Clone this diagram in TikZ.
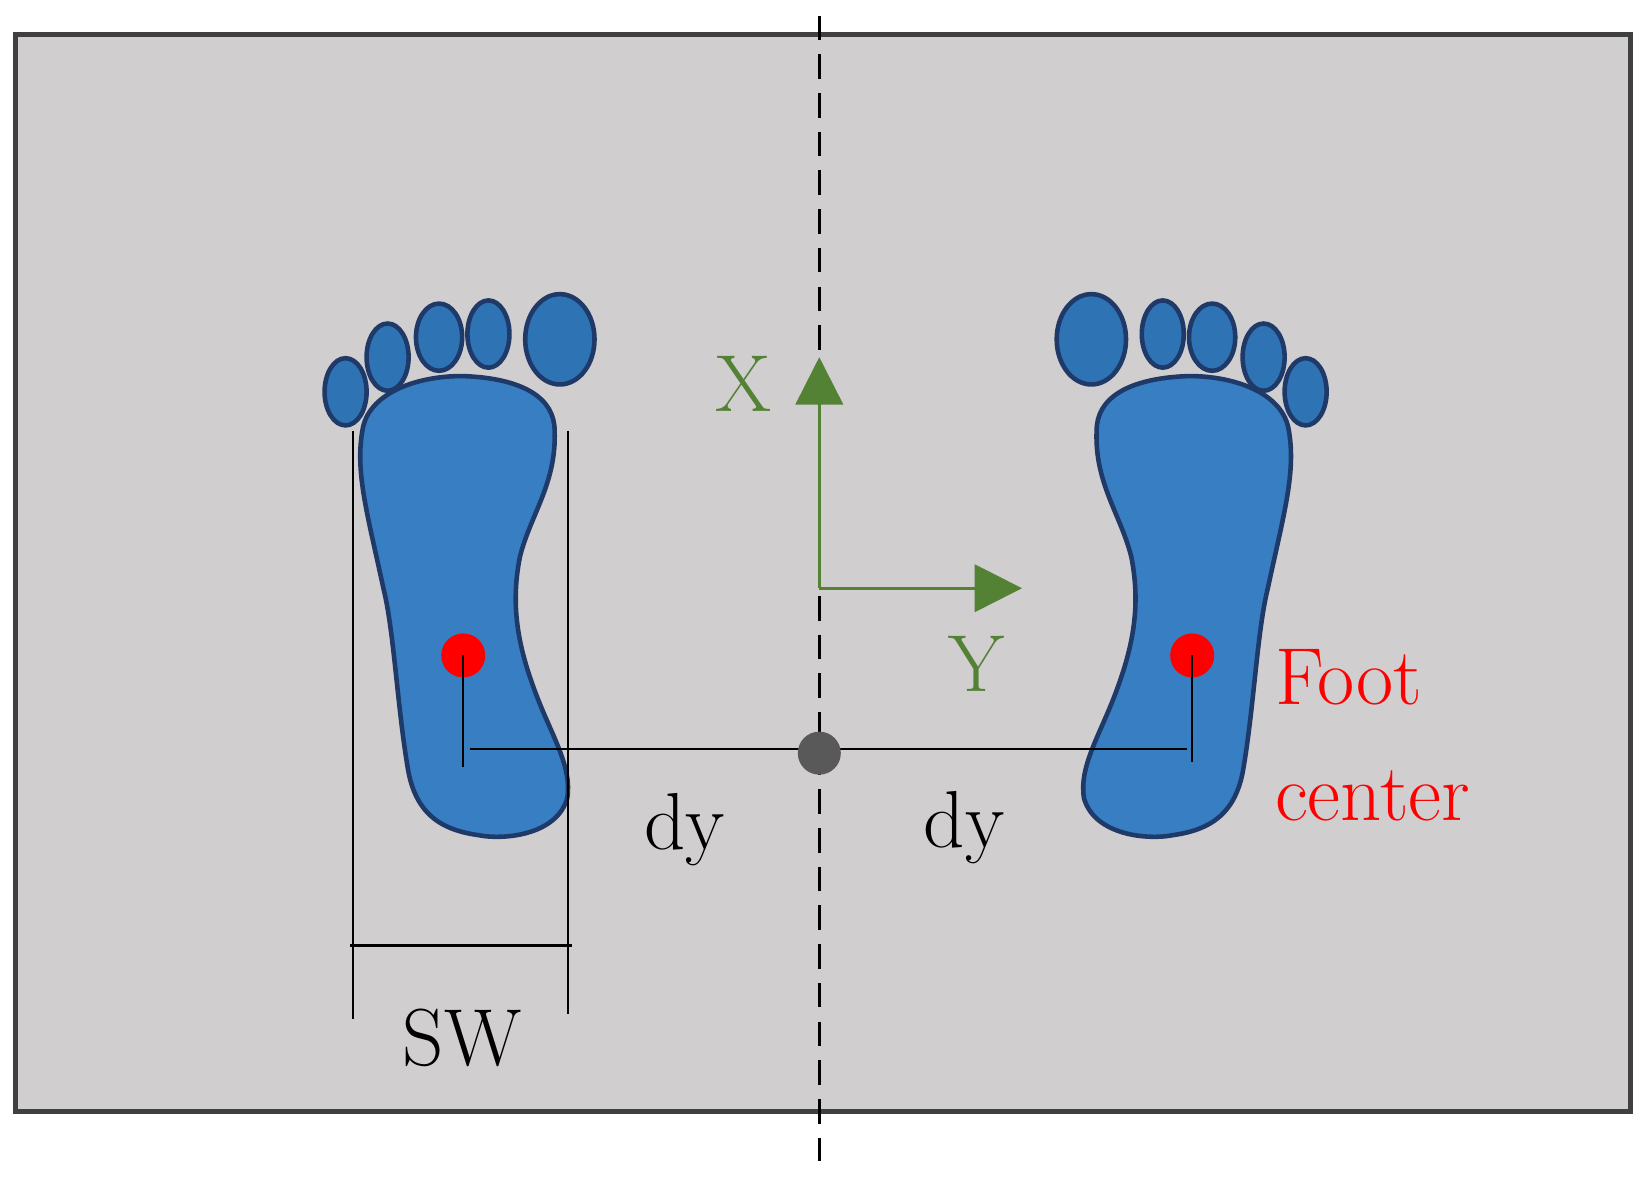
\documentclass[tikz,border=0pt]{standalone}
\usetikzlibrary{arrows.meta}
\definecolor{bg}{HTML}{D0CECF}
\definecolor{frame}{HTML}{404040}
\definecolor{footf}{HTML}{377EC3}
\definecolor{foote}{HTML}{1F3A68}
\definecolor{toef}{HTML}{2E74B5}
\definecolor{axg}{HTML}{548235}
\tikzset{
  foot/.style={fill=footf,draw=foote,line width=2.6pt},
  toe/.style={fill=toef,draw=foote,line width=2.6pt},
  meas/.style={black,line width=1.4pt},
  big/.style={font=\fontsize{46}{52}\selectfont},
  axis/.style={axg,line width=1.5pt,-{Triangle[length=0.95cm,width=0.95cm]}},
}
\begin{document}
\begin{tikzpicture}[x=0.021cm,y=-0.021cm]
\useasboundingbox (0,0) rectangle (1568,1120.5);
\draw[fill=bg,draw=frame,line width=2.8pt] (15,33) rectangle (1552,1058);
\draw[black,line width=1.7pt,dash pattern=on 14pt off 8pt] (780,15) -- (780,1105);
% feet
\foreach \sx/\ox in {1/0,-1/1572}{
\begin{scope}[shift={(\ox,0)},xscale=\sx]
\draw[foot] (440,358) .. controls (500,360) and (528,380) .. (528,410)
  .. controls (530,460) and (505,490) .. (495,530)
  .. controls (485,580) and (495,620) .. (510,660)
  .. controls (525,700) and (545,730) .. (540,760)
  .. controls (530,795) and (480,800) .. (455,795)
  .. controls (420,790) and (395,775) .. (388,730)
  .. controls (378,670) and (375,600) .. (365,560)
  .. controls (350,490) and (338,450) .. (345,410)
  .. controls (350,375) and (395,358) .. (440,358) -- cycle;
\draw[toe] (329,373) ellipse [x radius=20,y radius=32];
\draw[toe] (369,340) ellipse [x radius=20,y radius=32];
\draw[toe] (418,321) ellipse [x radius=22,y radius=32];
\draw[toe] (465,318) ellipse [x radius=20,y radius=32];
\draw[toe] (533,323) ellipse [x radius=33,y radius=43];
\end{scope}}
% SW
\draw[meas] (336,410) -- (336,970);
\draw[meas] (541,410) -- (541,965);
\draw[meas] (333,900) -- (545,900);
\node[big] (sw) at (440,988) {SW};
% red dots and dy
\coordinate (lb) at (441,730);
\coordinate (rb) at (1135,725);
\node[circle,fill=red,minimum size=0.88cm,inner sep=0] (ld) at (441,624) {};
\node[circle,fill=red,minimum size=0.88cm,inner sep=0] (rd) at (1135,624) {};
\draw[meas] (ld.center) -- (lb);
\draw[meas] (rd.center) -- (rb);
\coordinate (hl) at (447,713);
\coordinate (hr) at (1130,713);
\draw[meas] (hl) -- (hr);
\node[circle,fill=black!65,minimum size=0.86cm,inner sep=0] (c) at (780,717) {};
\node[big] (dy1) at (652,790) {dy};
\node[big] (dy2) at (918,788) {dy};
% axes
\coordinate (o) at (780,560);
\coordinate (xt) at (780,340);
\coordinate (yt) at (973,560);
\draw[axis] (o) -- (xt);
\draw[axis] (o) -- (yt);
\node[big,text=axg] (X) at (708,365) {X};
\node[big,text=axg] (Y) at (930,632) {Y};
\node[big,text=red,align=left,anchor=north west] (fc) at (1208,612) {Foot\\[14pt]center};
\end{tikzpicture}
\end{document}
